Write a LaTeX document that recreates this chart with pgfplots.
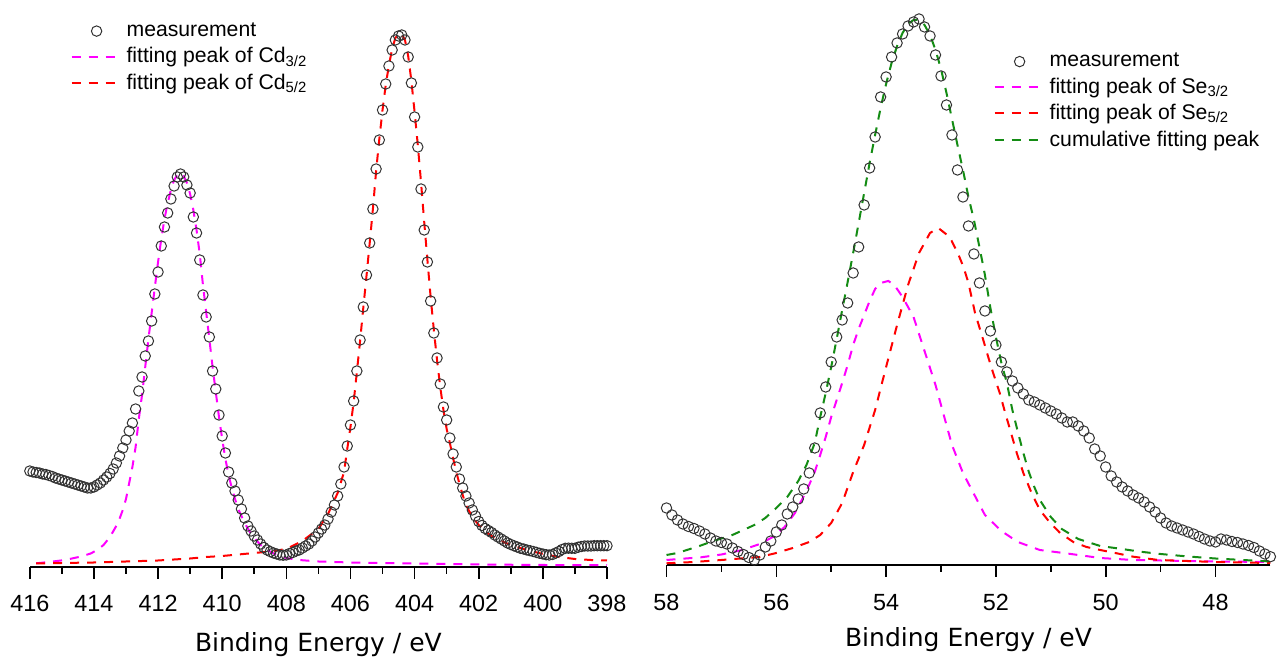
\documentclass[border=0pt]{standalone}
\usepackage{fontspec}
\setmainfont{Liberation Sans}
\newfontfamily\labelfont{DejaVu Sans}
\usepackage{pgfplots}
\pgfplotsset{compat=1.18}
\definecolor{ptmag}{RGB}{255,0,255}
\definecolor{ptred}{RGB}{255,0,0}
\definecolor{ptgreen}{RGB}{20,140,20}
\definecolor{ptcirc}{RGB}{50,50,50}
\pgfplotsset{
  xpsaxis/.style={
    scale only axis, clip=false,
    x dir=reverse,
    axis x line=bottom, axis y line=none,
    x axis line style={-, line width=0.9pt},
    ytick=\empty,
    minor x tick num=1,
    tick align=outside,
    major tick length=5.8pt, minor tick length=3.3pt,
    every tick/.style={black, line width=0.8pt},
    /pgf/number format/assume math mode=true,
    xticklabel style={font=\fontsize{11.7}{12}\selectfont, anchor=base},
    xlabel style={font=\labelfont\fontsize{12.5}{14}\selectfont, at={(axis description cs:0.5,0)}, anchor=base},
    legend style={draw=none, fill=none, font=\fontsize{10.6}{12}\selectfont, anchor=north west, inner sep=0pt, row sep=0pt},
    legend cell align=left,
    legend image code/.code={\draw[mark repeat=2,mark phase=2,#1] plot coordinates {(0pt,0pt) (12.5pt,0pt) (25pt,0pt)};},
  },
  meas/.style={only marks, mark=o, mark size=2.6pt, mark options={line width=0.5pt, draw=ptcirc}, draw=ptcirc},
  fitline/.style={no marks, line width=1pt, dash pattern=on 4.5pt off 4pt},
}
\begin{document}
\begin{tikzpicture}
\path[use as bounding box] (0,0) rectangle (640pt,328.5pt);
% ---------------- left panel: Cd 3d ----------------
\begin{axis}[xpsaxis, at={(14.9pt,45pt)}, anchor=south west,
  width=288.6pt, height=278.5pt,
  xmin=398, xmax=416, ymin=0, ymax=557,
  xtick={398,400,...,416},
  xticklabel style={yshift=-16.3pt},
  xlabel={Binding Energy / eV},
  xlabel style={yshift=-42.5pt},
  legend style={at={(0.07,0.985)}}]
\addplot[meas] coordinates {
(416.0,96)(415.9,95)(415.8,94.5)(415.7,94)(415.6,93)(415.5,92.5)(415.4,91.5)(415.3,90.5)(415.2,89)(415.1,88)
(415.0,87)(414.9,86)(414.8,85)(414.7,84)(414.6,83)(414.5,82)(414.4,81)(414.3,80)(414.2,79)(414.1,79)
(414.0,80)(413.9,82)(413.8,84)(413.7,87)(413.6,90)(413.5,93.5)(413.4,98)(413.3,104)(413.2,111)(413.1,119)
(413.0,127)(412.9,136)(412.8,144)(412.7,158)(412.6,176)(412.5,190)(412.4,211)(412.3,226)(412.2,246)(412.1,273)
(412.0,295)(411.9,321)(411.8,340)(411.7,354)(411.6,368)(411.5,381)(411.4,390)(411.3,393)(411.2,390)(411.1,382)
(411.0,374)(410.9,350)(410.8,334)(410.7,307)(410.6,272)(410.5,250)(410.4,230)(410.3,196)(410.2,178)(410.1,152)
(410.0,131)(409.9,114)(409.8,95)(409.7,84)(409.6,76)(409.5,67)(409.4,58)(409.3,49)(409.2,41)(409.1,36)
(409.0,31)(408.9,27)(408.8,23)(408.7,19.5)(408.6,17)(408.5,15.4)(408.4,14)(408.3,13)(408.2,12)(408.1,11.8)
(408.0,12)(407.9,13.5)(407.8,14.5)(407.7,16)(407.6,17)(407.5,19)(407.4,21)(407.3,23)(407.2,26)(407.1,30)
(407.0,34)(406.9,38)(406.8,42)(406.7,48)(406.6,55)(406.5,62)(406.4,71)(406.3,83)(406.2,100)(406.1,121)
(406.0,142)(405.9,166)(405.8,196)(405.7,227)(405.6,260)(405.5,292)(405.4,324)(405.3,358)(405.2,398)(405.1,427)
(405.0,457)(404.9,483)(404.8,501)(404.7,517)(404.6,527)(404.5,531)(404.4,532)(404.3,527)(404.2,510)(404.1,484)
(404.0,450)(403.9,420)(403.8,378)(403.7,337)(403.6,305)(403.5,266)(403.4,234)(403.3,209)(403.2,183)(403.1,160)
(403.0,147)(402.9,129)(402.8,113)(402.7,100)(402.6,88)(402.5,79)(402.4,71)(402.3,64)(402.2,57)(402.1,51)
(402.0,45.5)(401.9,41.5)(401.8,38.5)(401.7,36.5)(401.6,34.5)(401.5,32)(401.4,30)(401.3,28)(401.2,26)(401.1,24)
(401.0,22.5)(400.9,21.2)(400.8,20)(400.7,18.7)(400.6,18)(400.5,17)(400.4,16.3)(400.3,15.5)(400.2,14.6)(400.1,13.7)
(400.0,13)(399.9,12.3)(399.8,12)(399.7,12.5)(399.6,14)(399.5,15.5)(399.4,17.5)(399.3,18.7)(399.2,18.8)(399.1,18.7)
(399.0,18.7)(398.9,19.8)(398.8,20.5)(398.7,21)(398.6,21)(398.5,21)(398.4,21.3)(398.3,21.3)(398.2,21.3)(398.1,21.3)(398.0,21.3)
};
\addlegendentry{measurement}
\addplot[fitline, color=ptmag] coordinates {
(415.8,3.7)(415.4,5)(414.9,7)(414.4,10.5)(414.1,13.5)(413.9,17)(413.7,22)(413.5,30)(413.25,44)(413.1,57)
(413.0,68)(412.9,84)(412.8,100)(412.7,120)(412.6,148)(412.5,172)(412.4,200)(412.3,228)(412.2,254)(412.1,280)
(412.0,305)(411.9,328)(411.8,348)(411.7,364)(411.6,377)(411.5,387)(411.4,392)(411.3,394)(411.2,391)(411.1,384)
(411.0,373)(410.9,357)(410.8,337)(410.7,313)(410.6,282)(410.5,255)(410.4,228)(410.3,200)(410.2,175)(410.1,150)
(410.0,128)(409.9,108)(409.8,92)(409.7,79)(409.6,68)(409.5,58)(409.3,44)(409.1,33)(409.0,29)(408.8,22)
(408.6,17)(408.3,12)(408.0,9)(407.6,7)(407.0,5.5)(406.0,4.5)(404.0,3.5)(402.0,2.5)(400.0,2)(398.0,1.8)
};
\addlegendentry{fitting peak of Cd\textsubscript{3/2}}
\addplot[fitline, color=ptred] coordinates {
(415.8,3.5)(415.0,4)(414.0,4.5)(413.0,5.5)(412.0,6.5)(411.0,8.5)(410.5,10)(410.0,11)(409.5,12.5)(409.0,14)
(408.5,15.5)(408.0,18)(407.5,26)(407.0,38)(406.7,53)(406.4,74)(406.2,95)(406.1,118)(406.0,140)(405.9,165)
(405.8,195)(405.7,226)(405.6,259)(405.5,291)(405.4,324)(405.3,358)(405.2,396)(405.1,428)(405.0,457)(404.9,482)
(404.8,502)(404.7,518)(404.6,529)(404.5,533)(404.4,533)(404.3,527)(404.2,511)(404.1,486)(404.0,455)(403.9,422)
(403.8,385)(403.7,345)(403.6,307)(403.5,270)(403.4,237)(403.3,207)(403.2,180)(403.1,157)(403.0,138)(402.9,124)
(402.8,109)(402.7,95)(402.6,83)(402.5,72)(402.4,62)(402.2,50)(402.0,42)(401.8,36)(401.6,31)(401.3,26)
(401.0,22)(400.5,17)(400.0,13)(399.5,10)(399.0,8)(398.5,7)(398.0,6.5)
};
\addlegendentry{fitting peak of Cd\textsubscript{5/2}}
\end{axis}
% ---------------- right panel: Se 3d ----------------
\begin{axis}[xpsaxis, at={(333.25pt,46pt)}, anchor=south west,
  width=301.95pt, height=277.5pt,
  xmin=47, xmax=58, ymin=0, ymax=555,
  xtick={48,50,...,58},
  xticklabel style={yshift=-17pt},
  xlabel={Binding Energy / eV},
  xlabel style={yshift=-41pt},
  legend style={at={(0.541,0.93)}}]
\addplot[meas] coordinates {
(58.0,57)(57.9,50)(57.8,45)(57.7,41)(57.6,38.5)(57.5,36.5)(57.4,34)(57.3,31)(57.2,27)(57.1,24)
(57.0,22.5)(56.9,21)(56.8,17)(56.7,13.5)(56.6,10.5)(56.5,7.5)(56.4,5)(56.3,10)(56.2,18)(56.1,24)
(56.0,33)(55.9,40)(55.8,51)(55.7,58)(55.6,66)(55.5,76)(55.4,92)(55.3,117)(55.2,152)(55.1,178)
(55.0,203)(54.9,228)(54.8,245)(54.7,262)(54.6,292)(54.5,318)(54.4,360)(54.3,397)(54.2,428)(54.1,468)
(54.0,488)(53.9,508)(53.8,522)(53.7,531)(53.6,539)(53.5,543)(53.4,546)(53.3,538)(53.2,529)(53.1,510)
(53.0,489)(52.9,460)(52.8,430)(52.7,395)(52.6,368)(52.5,339)(52.4,311)(52.3,282)(52.2,254)(52.1,234)
(52.0,220)(51.9,203)(51.8,193)(51.7,184)(51.6,177)(51.5,171)(51.4,165)(51.3,163)(51.2,160)(51.1,157)
(51.0,154)(50.9,151)(50.8,147)(50.7,143)(50.6,143)(50.5,139)(50.4,134)(50.3,127)(50.2,116)(50.1,109)
(50.0,98)(49.9,89)(49.8,83)(49.7,78)(49.6,74)(49.5,70)(49.4,67)(49.3,63)(49.2,58)(49.1,53)
(49.0,47)(48.9,42)(48.8,39)(48.7,37)(48.6,35)(48.5,33)(48.4,31)(48.3,28.5)(48.2,26)(48.1,24)
(48.0,23)(47.9,26)(47.8,25)(47.7,23.5)(47.6,22.5)(47.5,21)(47.4,19.5)(47.3,17.5)(47.2,14)(47.1,11)(47.0,8.3)
};
\addlegendentry{measurement}
\addplot[fitline, color=ptmag] coordinates {
(58.0,5)(57.7,6.3)(57.37,7.7)(57.0,10.5)(56.62,15)(56.3,21)(56.03,29)(55.85,38)(55.66,52)(55.45,74)
(55.3,93)(55.2,110)(55.1,128)(55.0,148)(54.9,165)(54.8,182)(54.7,200)(54.6,220)(54.5,236)(54.4,250)
(54.3,264)(54.2,276)(54.1,282)(53.96,284)(53.85,280)(53.7,268)(53.5,248)(53.3,214)(53.1,180)(52.96,152)
(52.8,120)(52.6,92)(52.4,71)(52.2,50)(51.9,34)(51.6,23)(51.2,15)(50.7,11.5)(50.1,7)(49.5,5)
(49.0,4.5)(48.0,3.5)(47.0,3)
};
\addlegendentry{fitting peak of Se\textsubscript{3/2}}
\addplot[fitline, color=ptred] coordinates {
(58.0,1.7)(57.5,3)(57.0,5)(56.3,8)(56.0,12)(55.7,17)(55.4,23)(55.2,30)(55.0,42)(54.8,62)
(54.6,93)(54.4,120)(54.2,155)(54.0,198)(53.8,240)(53.6,280)(53.4,312)(53.2,332)(53.05,337)(52.84,328)
(52.68,310)(52.59,298)(52.5,282)(52.38,252)(52.23,225)(52.14,208)(52.05,192)(51.93,172)(51.83,152)(51.74,135)
(51.62,112)(51.5,92)(51.35,72)(51.2,55)(51.01,42)(50.83,32)(50.59,23)(50.35,18)(50.1,15)(49.8,11.7)
(49.5,8.3)(49.04,5)(48.0,3)(47.0,2)
};
\addlegendentry{fitting peak of Se\textsubscript{5/2}}
\addplot[fitline, color=ptgreen] coordinates {
(58.0,10)(57.8,12)(57.6,15.5)(57.4,19)(57.2,23)(57.0,26.5)(56.8,30)(56.6,35)(56.4,40)(56.2,47)
(56.0,57)(55.8,68)(55.6,84)(55.45,100)(55.3,122)(55.2,148)(55.1,172)(55.0,198)(54.9,226)(54.8,255)
(54.7,283)(54.6,312)(54.5,342)(54.4,372)(54.3,402)(54.2,430)(54.1,457)(54.0,481)(53.9,502)(53.8,519)
(53.7,532)(53.6,541)(53.5,545)(53.4,545)(53.3,540)(53.2,530)(53.1,515)(53.0,496)(52.9,472)(52.8,446)
(52.7,420)(52.6,395)(52.5,368)(52.4,345)(52.3,318)(52.2,290)(52.1,257)(52.0,228)(51.9,202)(51.8,182)
(51.7,155)(51.6,133)(51.5,112)(51.4,93)(51.3,78)(51.2,65)(51.0,48)(50.8,36)(50.5,26)(50.1,19)
(49.7,16)(49.4,13.5)(49.0,11)(48.5,8.5)(48.0,6.5)(47.5,5)(47.0,3.5)
};
\addlegendentry{cumulative fitting peak}
\end{axis}
\end{tikzpicture}
\end{document}
